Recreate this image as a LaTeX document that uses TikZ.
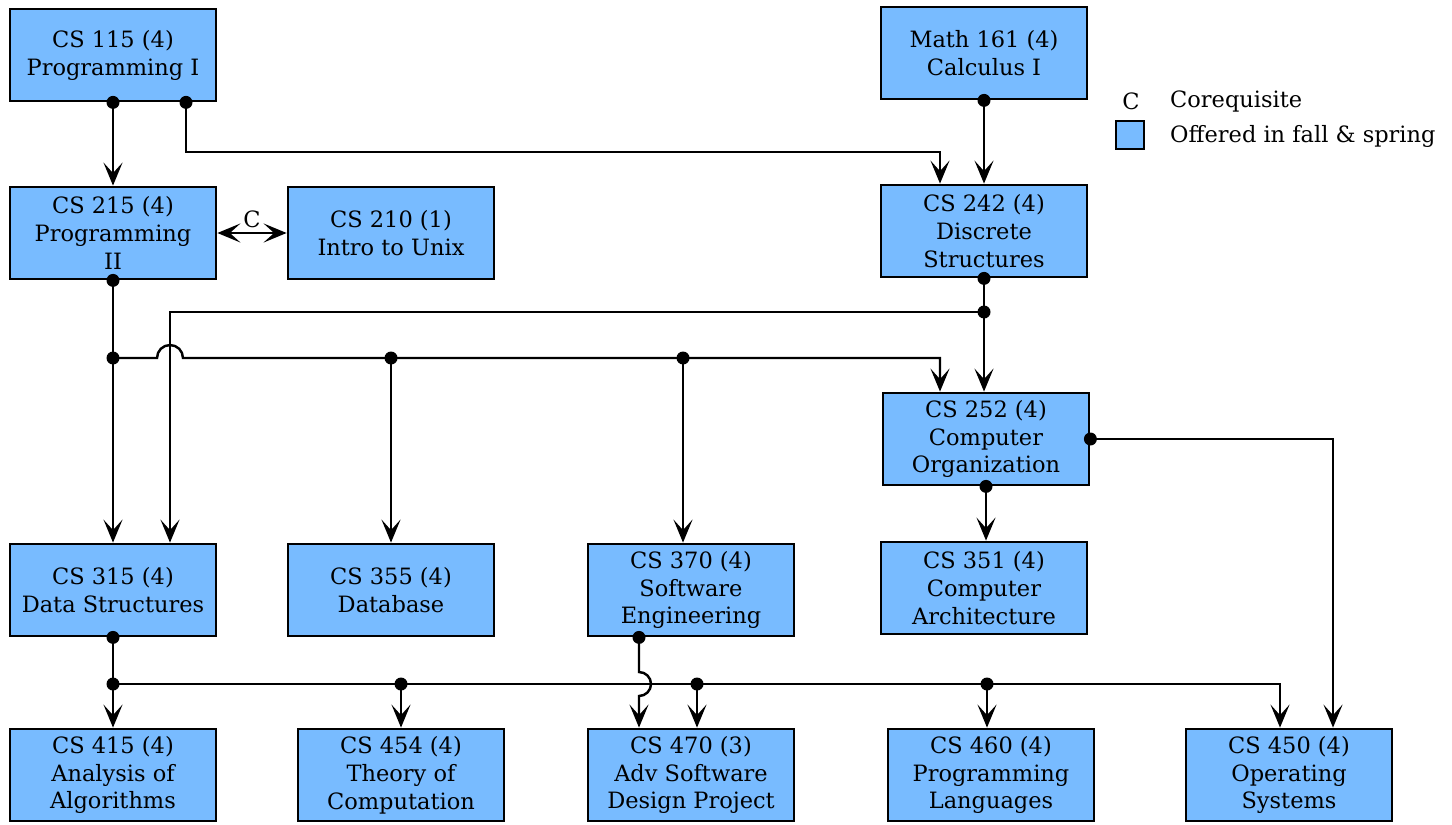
\documentclass[tikz,border=0pt]{standalone}
\usepackage{fontspec}
\setmainfont{DejaVu Serif}
\usetikzlibrary{arrows.meta,calc}
\definecolor{boxblue}{RGB}{120,187,255}
\tikzset{
    course/.style={draw,line width=1.6pt,fill=boxblue,minimum width=4.12cm,minimum height=1.84cm,
        align=center,inner sep=1pt,font=\fontsize{12.8}{15.9}\selectfont},
    arr/.style={line width=1.4pt,-{Stealth[length=4.6mm,width=3.8mm,inset=2.1mm]}},
    legend/.style={font=\fontsize{12.8}{15}\selectfont},
}
\newcommand{\jdot}[1]{\fill (#1) circle (0.13cm);}
\begin{document}
\begin{tikzpicture}[x=0.02cm,y=-0.02cm]
    \useasboundingbox (0,0) rectangle (1452,824);
    % courses
    \node[course] (c115) at (113,55)  {CS 115 (4)\\Programming I};
    \node[course] (c215) at (113,233) {CS 215 (4)\\Programming\\II};
    \node[course] (c210) at (391,233) {CS 210 (1)\\Intro to Unix};
    \node[course] (m161) at (984,53)  {Math 161 (4)\\Calculus I};
    \node[course] (c242) at (984,231) {CS 242 (4)\\Discrete\\Structures};
    \node[course] (c252) at (986,439) {CS 252 (4)\\Computer\\Organization};
    \node[course] (c315) at (113,590) {CS 315 (4)\\Data Structures};
    \node[course] (c355) at (391,590) {CS 355 (4)\\Database};
    \node[course] (c370) at (691,590) {CS 370 (4)\\Software\\Engineering};
    \node[course] (c351) at (984,588) {CS 351 (4)\\Computer\\Architecture};
    \node[course] (c415) at (113,775) {CS 415 (4)\\Analysis of\\Algorithms};
    \node[course] (c454) at (401,775) {CS 454 (4)\\Theory of\\Computation};
    \node[course] (c470) at (691,775) {CS 470 (3)\\Adv Software\\Design Project};
    \node[course] (c460) at (991,775) {CS 460 (4)\\Programming\\Languages};
    \node[course] (c450) at (1289,775) {CS 450 (4)\\Operating\\Systems};

    % legend
    \node[legend] (lc) at (1131,101) {C};
    \node[legend,anchor=west] (lct) at (1164,101) {Corequisite};
    \node[draw,line width=1.4pt,fill=boxblue,minimum size=0.56cm,inner sep=0pt] (lbox) at (1130,135) {};
    \node[legend,anchor=west] (lbt) at (1164,136) {Offered in fall \& spring};

    % junctions
    \coordinate (k1) at (940,152);
    \coordinate (j2) at (113,358);
    \coordinate (j4) at (391,358);
    \coordinate (j5) at (683,358);
    \coordinate (j3) at (984,312);
    \coordinate (j6) at (113,684);
    \coordinate (j7) at (401,684);
    \coordinate (j8) at (697,684);
    \coordinate (j9) at (987,684);

    % first year
    \draw[arr] (c115.south) -- (c215.north);
    \draw[arr] ($(c115.south)+(73,0)$) |- (k1) -- ($(c242.north)+(-44,0)$);
    \draw[arr] (m161.south) -- (c242.north);
    \draw[line width=1.4pt,{Stealth[length=4.6mm,width=3.8mm,inset=2.1mm]}-{Stealth[length=4.6mm,width=3.8mm,inset=2.1mm]}]
        (c215.east) -- node[legend,above,yshift=-1pt] {C} (c210.west);
    \jdot{c115.south} \jdot{$(c115.south)+(73,0)$} \jdot{m161.south}

    % from CS 215
    \draw[arr] (c215.south) -- (c315.north);
    \draw[arr] (j2) -- (157,358) arc[start angle=180,end angle=0,radius=0.26cm]
        -- (940,358) -- ($(c252.north)+(-46,0)$);
    \draw[arr] (j4) -- (c355.north);
    \draw[arr] (j5) -- (c370.north -| j5);
    \jdot{c215.south} \jdot{j2} \jdot{j4} \jdot{j5}

    % from CS 242
    \draw[arr] (c242.south) -- (c252.north -| c242.south);
    \draw[arr] (j3) -| ($(c315.north)+(57,0)$);
    \jdot{c242.south} \jdot{j3}

    % from CS 252
    \draw[arr] (c252.east) -| ($(c450.north)+(44,0)$);
    \draw[arr] (c252.south) -- (c351.north -| c252.south);
    \jdot{c252.east} \jdot{c252.south}

    % from CS 315
    \draw[arr] (c315.south) -- (c415.north);
    \draw[arr] (j6) -| ($(c450.north)+(-9,0)$);
    \draw[arr] (j7) -- (c454.north);
    \draw[arr] (j8) -- (c470.north -| j8);
    \draw[arr] (j9) -- (c460.north -| j9);
    \jdot{c315.south} \jdot{j6} \jdot{j7} \jdot{j8} \jdot{j9}

    % from CS 370, hopping over the line
    \draw[arr] ($(c370.south)+(-52,0)$) -- (639,672) arc[start angle=90,end angle=-90,radius=0.24cm]
        -- ($(c470.north)+(-52,0)$);
    \jdot{$(c370.south)+(-52,0)$}
\end{tikzpicture}
\end{document}
